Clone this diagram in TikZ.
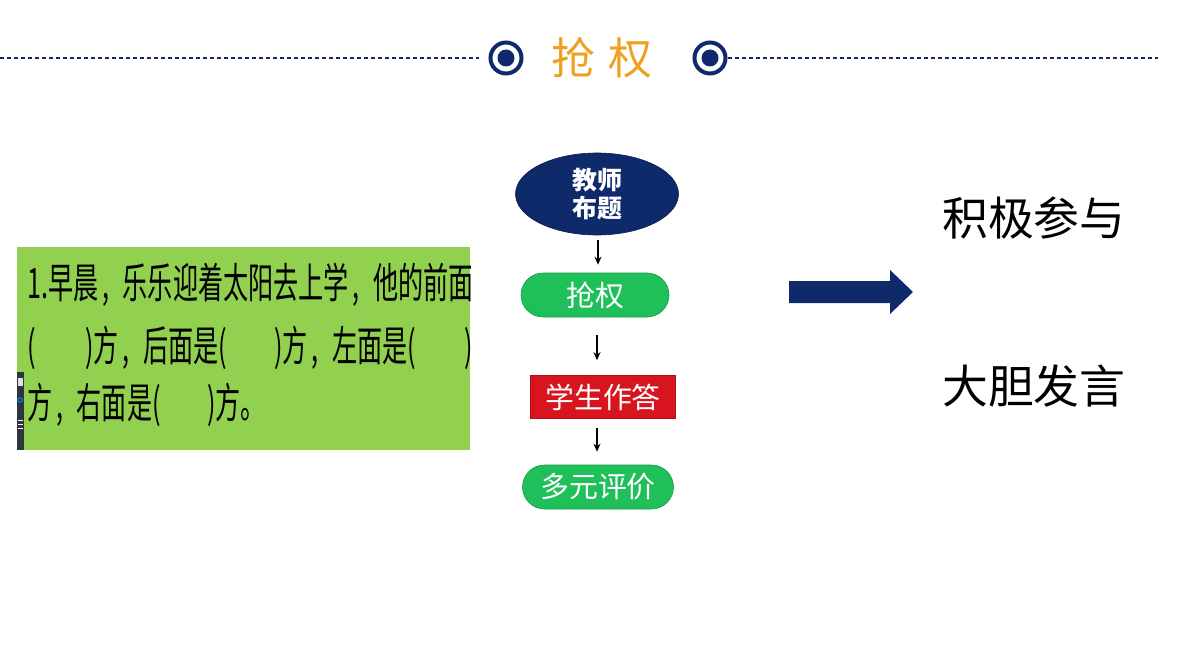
\documentclass[tikz,border=0pt]{standalone}
\usepackage{fontspec}
\newfontfamily\cjk{Noto Sans CJK SC}
\usetikzlibrary{arrows.meta,shapes.geometric}
\definecolor{navy}{HTML}{0F2A6B}
\definecolor{titleor}{HTML}{F0A020}
\definecolor{boxgreen}{HTML}{92D050}
\definecolor{pillgreen}{HTML}{1FBF5A}
\definecolor{boxred}{HTML}{D8141E}
\definecolor{sidebar}{HTML}{2E3440}
\tikzset{
  qtext/.style={anchor=west,inner sep=0pt,font=\cjk\fontsize{42}{42}\selectfont},
  pill/.style={draw=pillgreen!80!black,line width=0.6pt,fill=pillgreen,rounded corners=22bp,minimum width=148bp,minimum height=44bp,inner sep=0pt,text=white,font=\cjk\fontsize{29}{29}\selectfont},
  flowarrow/.style={-{Stealth[length=8bp,width=7bp]},line width=1.5pt,black},
  titlechar/.style={inner sep=0pt,text=titleor,font=\cjk\fontsize{44}{44}\selectfont},
  bigtext/.style={inner sep=0pt,font=\cjk\fontsize{46}{46}\selectfont},
  ringdot/.style={circle,draw=navy,line width=4bp,minimum size=31bp,inner sep=0pt,path picture={\fill[navy] (path picture bounding box.center) circle (8.5bp);}},
  dashline/.style={navy,line width=1.3pt,dash pattern=on 4bp off 3bp}
}
\newcommand{\cm}{\hspace{0.15em},\hspace{0.55em}}
\begin{document}
\begin{tikzpicture}[x=1bp,y=-1bp]
\useasboundingbox (0,0) rectangle (1196,671);
% title bar
\node[ringdot] (cl) at (506,58) {};
\node[ringdot] (cr) at (710,58) {};
\coordinate (dl) at (0,58);
\coordinate (dr) at (1158,58);
\draw[dashline] (dl) -- ([xshift=-10bp]cl.west);
\draw[dashline] (cr.east) -- (dr);
\node[titlechar] (t1) at (573,58) {抢};
\node[titlechar] (t2) at (630,58) {权};
% question box
\fill[boxgreen] (17,247) rectangle (470,450);
\fill[sidebar] (17,372) rectangle (24,450);
\fill[white!85!sidebar] (18,378) rectangle (23,386);
\draw[cyan!70!blue,line width=1pt] (20.5,400) circle (2.2bp);
\foreach \yy in {420,424,428} \draw[white,line width=0.8pt] (18,\yy) -- (23,\yy);
\begin{scope}
\clip (17,247) rectangle (470,450);
\node[qtext] (l1) at (27,285) {\scalebox{0.6}[1]{1.早晨\cm 乐乐迎着太阳去上学\cm 他的前面}};
\node[qtext] (l2a) at (27,348) {\scalebox{0.6}[1]{(}};
\node[qtext] (l2b) at (85,348) {\scalebox{0.6}[1]{)方\cm 后面是(}};
\node[qtext] (l2c) at (274,348) {\scalebox{0.6}[1]{)方\cm 左面是(}};
\node[qtext] (l2d) at (464,348) {\scalebox{0.6}[1]{)}};
\node[qtext] (l3a) at (27,405) {\scalebox{0.6}[1]{方\cm 右面是(}};
\node[qtext] (l3b) at (207,405) {\scalebox{0.6}[1]{)方。}};
\end{scope}
% flowchart
\node[ellipse,draw=navy!70!black,line width=0.6pt,fill=navy,minimum width=163bp,minimum height=82bp,inner sep=0pt,text=white,align=center,font=\cjk\bfseries\fontsize{25}{28}\selectfont] (e) at (597,194) {教师\\布题};
\node[pill] (p1) at (595,295) {抢权};
\node[draw=boxred!80!black,line width=0.6pt,fill=boxred,minimum width=145bp,minimum height=43bp,inner sep=0pt,text=white,font=\cjk\fontsize{29}{29}\selectfont] (r) at (603,397) {学生作答};
\node[pill,minimum width=151bp] (p2) at (598,487) {多元评价};
\draw[flowarrow,shorten <=5bp,shorten >=8bp] ([xshift=1bp]e.south) -- ([xshift=1bp]e.south |- p1.north);
\draw[flowarrow,shorten <=18bp,shorten >=15bp] ([xshift=2bp]p1.south) -- ([xshift=2bp]p1.south |- r.north);
\draw[flowarrow,shorten <=9bp,shorten >=13bp] ([xshift=-6bp]r.south) -- ([xshift=-6bp]r.south |- p2.north);
% big arrow
\fill[navy] (789,281) -- (890,281) -- (890,270) -- (913,292) -- (890,314) -- (890,303) -- (789,303) -- cycle;
% right texts
\node[bigtext,anchor=west] (a1) at (942,218) {积极参与};
\node[bigtext,anchor=west] (a2) at (942,386) {大胆发言};
\end{tikzpicture}
\end{document}
